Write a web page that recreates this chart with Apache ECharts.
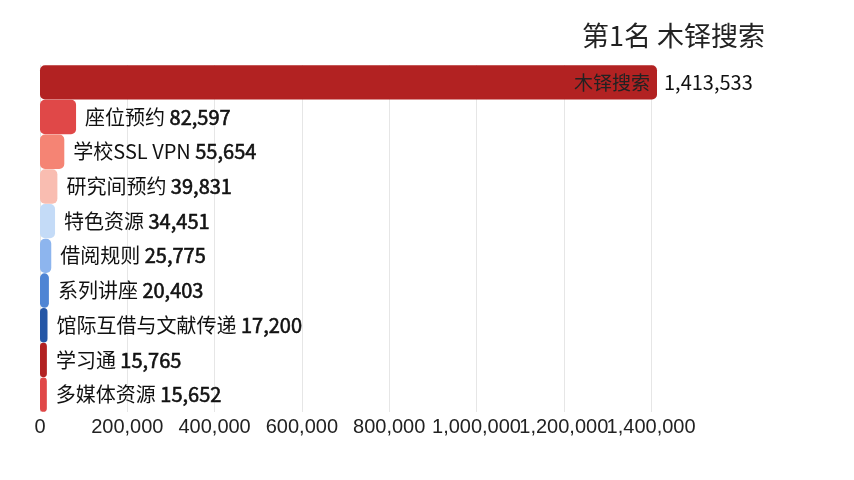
<!DOCTYPE html>
<html>
<head>
<meta charset="utf-8">
<title>访问量排名</title>
<script src="https://cdn.jsdelivr.net/npm/echarts@6/dist/echarts.min.js"></script>
<style>
    html, body { margin: 0; padding: 0; background: #fff; }
    #main { width: 854px; height: 480px; }
</style>
</head>
<body>
<div id="main"></div>
<script>
    // 数据
    var names = ['木铎搜索', '座位预约', '学校SSL VPN', '研究间预约', '特色资源', '借阅规则', '系列讲座', '馆际互借与文献传递', '学习通', '多媒体资源'];
    var values = [1413533, 82597, 55654, 39831, 34451, 25775, 20403, 17200, 15765, 15652];
    var xTicks = [0, 200000, 400000, 600000, 800000, 1000000, 1200000, 1400000];
    var rank = 1;

    var palette = ['#b22222', '#e04848', '#f58474', '#f9bdb1', '#c4dbf7', '#8db5ee', '#4f85d4', '#2456a6'];

    function fmt(v) {
        return String(v).replace(/\B(?=(\d{3})+(?!\d))/g, ',');
    }

    var chart = echarts.init(document.getElementById('main'));

    var barData = values.map(function (v, i) {
        return {
            value: v,
            itemStyle: { color: palette[i % palette.length] },
            label: i === 0 ? {
                show: true,
                position: 'insideRight',
                distance: 7,
                formatter: names[i],
                color: '#222',
                fontSize: 19,
                fontFamily: 'Noto Sans CJK SC'
            } : { show: false }
        };
    });

    var labelData = values.map(function (v, i) {
        return {
            value: v,
            label: i === 0 ? {
                formatter: fmt(v),
                distance: 7
            } : {
                formatter: '{n|' + names[i] + '} {v|' + fmt(v) + '}'
            }
        };
    });

    // 最大值处的分隔线不画
    var splitColors = xTicks.map(function () { return '#e6e6e6'; });
    splitColors.push('rgba(0,0,0,0)');

    var option = {
        backgroundColor: '#fff',
        animation: false,
        title: {
            text: '第' + rank + '名 ' + names[0],
            right: 84,
            top: 17,
            textStyle: {
                fontFamily: 'Noto Sans CJK SC',
                fontSize: 27,
                fontWeight: 'normal',
                color: '#222'
            }
        },
        grid: {
            left: 40,
            right: 197,
            top: 65,
            bottom: 68
        },
        xAxis: {
            type: 'value',
            min: 0,
            max: 'dataMax',
            interval: 200000,
            axisLine: { show: false },
            axisTick: { show: false },
            splitLine: { lineStyle: { color: splitColors } },
            axisLabel: {
                showMaxLabel: false,
                fontFamily: 'Liberation Sans',
                fontSize: 20,
                color: '#222',
                margin: 5,
                formatter: function (v) { return xTicks.indexOf(v) >= 0 ? fmt(v) : ''; }
            }
        },
        yAxis: {
            type: 'category',
            inverse: true,
            data: names,
            show: false
        },
        series: [{
            type: 'bar',
            data: barData,
            barCategoryGap: '1%',
            itemStyle: { borderRadius: 5 }
        }, {
            type: 'bar',
            data: labelData,
            barGap: '-100%',
            barCategoryGap: '1%',
            itemStyle: { color: 'rgba(0,0,0,0)' },
            silent: true,
            label: {
                show: true,
                position: 'right',
                distance: 9,
                color: '#111',
                fontFamily: 'Noto Sans CJK SC',
                fontSize: 20,
                rich: {
                    n: { fontFamily: 'Noto Sans CJK SC', fontSize: 20, color: '#111' },
                    v: {
                        fontFamily: 'Noto Sans CJK SC', fontSize: 20, color: '#111',
                        textBorderColor: '#111', textBorderWidth: 0.6
                    }
                }
            }
        }]
    };

    chart.setOption(option);
</script>
</body>
</html>
